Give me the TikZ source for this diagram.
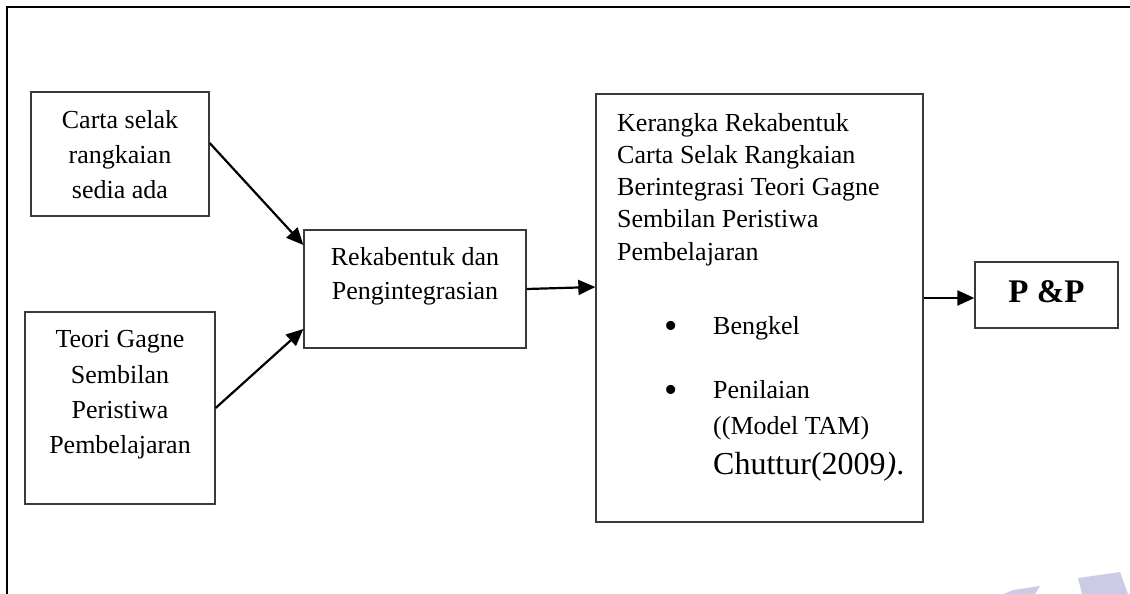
\documentclass[tikz,border=0pt]{standalone}
\usepackage{fontspec}
\setmainfont{Liberation Serif}
\usetikzlibrary{arrows.meta}
\definecolor{boxline}{HTML}{3A3A3A}
\definecolor{wmark}{HTML}{CBCBE6}
\begin{document}
\begin{tikzpicture}[x=1pt,y=-1pt,
  box/.style={draw=boxline, line width=1.3pt, inner sep=0pt},
  arr/.style={draw=black, line width=2.2pt, -{Triangle[length=17pt,width=15pt]}},
  txt/.style={inner sep=0pt, anchor=base, font=\fontsize{26}{30}\selectfont},
  ltxt/.style={txt, anchor=base west},
  bullet/.style={inner sep=0pt, anchor=center, font=\fontsize{38}{40}\selectfont},
  big/.style={inner sep=0pt, anchor=base west, font=\fontsize{32}{38}\selectfont},
  bold/.style={inner sep=0pt, anchor=base, font=\fontsize{33}{38}\selectfont\bfseries}]
\useasboundingbox (0,0) rectangle (1130,594);
% outer frame (right and bottom sides lie outside the picture)
\draw[black, line width=2pt] (7,594) -- (7,7) -- (1130,7);
% watermark fragments
\fill[wmark] (1004,594) -- (1013,590) -- (1040,586) -- (1035,594) -- cycle;
\fill[wmark] (1078,578) -- (1120,572) -- (1128,594) -- (1082,594) -- cycle;
% boxes
\node[box, minimum width=178pt, minimum height=124pt] (A) at (120,154) {};
\node[box, minimum width=190pt, minimum height=192pt] (B) at (120,408) {};
\node[box, minimum width=222pt, minimum height=118pt] (C) at (415,289) {};
\node[box, minimum width=327pt, minimum height=428pt] (D) at (759.5,308) {};
\node[box, minimum width=143pt, minimum height=66pt] (E) at (1046.5,295) {};
% texts of box A
\node[txt] (a1) at (120,128) {Carta selak};
\node[txt] (a2) at (120,163) {rangkaian};
\node[txt] (a3) at (120,198) {sedia ada};
% texts of box B
\node[txt] (b1) at (120,347) {Teori Gagne};
\node[txt] (b2) at (120,383) {Sembilan};
\node[txt] (b3) at (120,418) {Peristiwa};
\node[txt] (b4) at (120,453) {Pembelajaran};
% texts of box C
\node[txt] (c1) at (415,265) {Rekabentuk dan};
\node[txt] (c2) at (415,299) {Pengintegrasian};
% texts of box D
\node[ltxt] (d1) at (617,131) {Kerangka Rekabentuk};
\node[ltxt] (d2) at (617,163) {Carta Selak Rangkaian};
\node[ltxt] (d3) at (617,195) {Berintegrasi Teori Gagne};
\node[ltxt] (d4) at (617,227) {Sembilan Peristiwa};
\node[ltxt] (d5) at (617,260) {Pembelajaran};
\node[bullet] (bul1) at (671,330) {•};
\node[ltxt] (d6) at (713,334) {Bengkel};
\node[bullet] (bul2) at (671,394) {•};
\node[ltxt] (d7) at (713,398) {Penilaian};
\node[ltxt] (d8) at (713,434) {((Model TAM)};
\node[big] (d9) at (713,474) {Chuttur(2009\textit{)}.};
% text of box E
\node[bold] (e1) at (1046.5,302) {P \&P};
% connectors
\draw[arr] ([yshift=11pt]A.east) -- ([yshift=44pt]C.west);
\draw[arr] (B.east) -- ([yshift=-40pt]C.west);
\draw[arr] (C.east) -- ([yshift=21pt]D.west);
\draw[arr] ([yshift=10pt]D.east) -- ([yshift=-3pt]E.west);
\end{tikzpicture}
\end{document}
